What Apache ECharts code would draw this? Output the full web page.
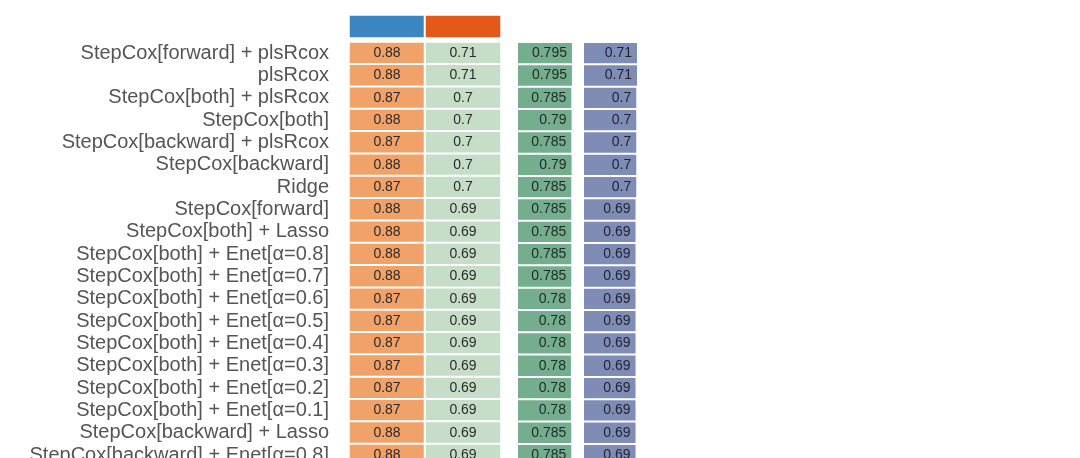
<!DOCTYPE html>
<html>
<head>
<meta charset="utf-8">
<script src="https://cdn.jsdelivr.net/npm/echarts@6/dist/echarts.min.js"></script>
<style>
  html, body { margin: 0; padding: 0; background: #fff; }
  #chart { width: 1080px; height: 458px; }
</style>
</head>
<body>
<div id="chart"></div>
<script>
const models = [
  'StepCox[forward] + plsRcox',
  'plsRcox',
  'StepCox[both] + plsRcox',
  'StepCox[both]',
  'StepCox[backward] + plsRcox',
  'StepCox[backward]',
  'Ridge',
  'StepCox[forward]',
  'StepCox[both] + Lasso',
  'StepCox[both] + Enet[α=0.8]',
  'StepCox[both] + Enet[α=0.7]',
  'StepCox[both] + Enet[α=0.6]',
  'StepCox[both] + Enet[α=0.5]',
  'StepCox[both] + Enet[α=0.4]',
  'StepCox[both] + Enet[α=0.3]',
  'StepCox[both] + Enet[α=0.2]',
  'StepCox[both] + Enet[α=0.1]',
  'StepCox[backward] + Lasso',
  'StepCox[backward] + Enet[α=0.8]',
];
const cohorts = ['Cohort1', 'Cohort2'];
const cohortColors = ['#3c87c2', '#e4581a'];
const cohort1 = [0.88, 0.88, 0.87, 0.88, 0.87, 0.88, 0.87, 0.88, 0.88, 0.88, 0.88, 0.87, 0.87, 0.87, 0.87, 0.87, 0.87, 0.88, 0.88];
const cohort2 = [0.71, 0.71, 0.7, 0.7, 0.7, 0.7, 0.7, 0.69, 0.69, 0.69, 0.69, 0.69, 0.69, 0.69, 0.69, 0.69, 0.69, 0.69, 0.69];
const meanCindex = [0.795, 0.795, 0.785, 0.79, 0.785, 0.79, 0.785, 0.785, 0.785, 0.785, 0.785, 0.78, 0.78, 0.78, 0.78, 0.78, 0.78, 0.785, 0.785];
const validCindex = [0.71, 0.71, 0.7, 0.7, 0.7, 0.7, 0.7, 0.69, 0.69, 0.69, 0.69, 0.69, 0.69, 0.69, 0.69, 0.69, 0.69, 0.69, 0.69];

const rowH = 22.33;
const gridTop = 42;
const gridH = rowH * models.length;

const chart = echarts.init(document.getElementById('chart'));

const heatData = [];
cohort1.forEach((v, i) => heatData.push([0, i, v]));
cohort2.forEach((v, i) => heatData.push([1, i, v]));

const cellLabel = {
  show: true,
  fontSize: 14,
  color: '#2a2a2a',
  fontFamily: 'Liberation Sans',
  formatter: p => String(p.value[2]),
};

const option = {
  animation: false,
  textStyle: { fontFamily: 'Liberation Sans' },
  grid: [
    { left: 349, width: 152, top: 15, height: 23, outerBoundsMode: 'none' },
    { left: 349, width: 152, top: gridTop, height: gridH, outerBoundsMode: 'none' },
    { left: 518, width: 54.3, top: gridTop, height: gridH, outerBoundsMode: 'none' },
    { left: 584, width: 53.75, top: gridTop, height: gridH, outerBoundsMode: 'none' },
  ],
  xAxis: [
    { gridIndex: 0, type: 'category', data: cohorts, show: false },
    { gridIndex: 1, type: 'category', data: cohorts, show: false },
    { gridIndex: 2, type: 'value', min: 0, max: 0.8, show: false },
    { gridIndex: 3, type: 'value', min: 0, max: 0.72, show: false },
  ],
  yAxis: [
    { gridIndex: 0, type: 'category', data: ['cohort'], show: false },
    {
      gridIndex: 1,
      type: 'category',
      data: models,
      inverse: true,
      axisLine: { show: false },
      axisTick: { show: false },
      axisLabel: { interval: 0, fontSize: 20, color: '#555', margin: 20, fontFamily: 'Liberation Sans' },
    },
    { gridIndex: 2, type: 'category', data: models, inverse: true, show: false },
    { gridIndex: 3, type: 'category', data: models, inverse: true, show: false },
  ],
  visualMap: [
    {
      show: false,
      seriesIndex: 1,
      dimension: 0,
      type: 'piecewise',
      pieces: [
        { value: 0, color: '#f1a268' },
        { value: 1, color: '#c6dec8' },
      ],
    },
  ],
  series: [
    {
      type: 'heatmap',
      xAxisIndex: 0,
      yAxisIndex: 0,
      data: cohorts.map((c, i) => ({
        value: [i, 0, 1],
        itemStyle: { color: cohortColors[i] },
      })),
      itemStyle: { borderColor: '#fff', borderWidth: 2 },
    },
    {
      type: 'heatmap',
      xAxisIndex: 1,
      yAxisIndex: 1,
      data: heatData,
      label: cellLabel,
      itemStyle: { borderColor: '#fff', borderWidth: 2 },
    },
    {
      type: 'bar',
      xAxisIndex: 2,
      yAxisIndex: 2,
      data: meanCindex,
      barCategoryGap: '9%',
      itemStyle: { color: '#74ae8f' },
      label: {
        show: true,
        position: 'insideRight',
        distance: 5,
        fontSize: 14,
        color: '#1f2a24',
        fontFamily: 'Liberation Sans',
      },
    },
    {
      type: 'bar',
      xAxisIndex: 3,
      yAxisIndex: 3,
      data: validCindex,
      barCategoryGap: '9%',
      itemStyle: { color: '#7f8cb5' },
      label: {
        show: true,
        position: 'insideRight',
        distance: 5,
        fontSize: 14,
        color: '#1f2230',
        fontFamily: 'Liberation Sans',
      },
    },
  ],
};

chart.setOption(option);
</script>
</body>
</html>
